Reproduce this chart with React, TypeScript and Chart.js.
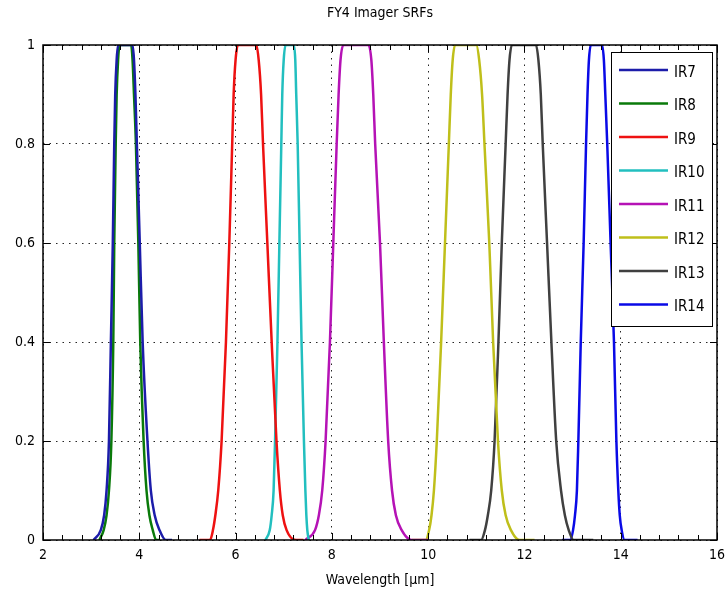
import React, { useEffect, useRef } from "react";
import { Chart, registerables } from "chart.js";

Chart.register(...registerables);

const FONT = "'Liberation Sans Narrow', 'Arial Narrow', 'DejaVu Sans Condensed', sans-serif";

const chartTitle = "FY4 Imager SRFs";
const xAxisTitle = "Wavelength [\u03bcm]";

const seriesNames = ["IR7", "IR8", "IR9", "IR10", "IR11", "IR12", "IR13", "IR14"];
const seriesColors = ["#1c1caa", "#0a7a0a", "#ee1111", "#22bfbf", "#b512b5", "#bfbf1a", "#404040", "#0a0ae6"];

const ir7X = [3.05, 3.20, 3.27, 3.32, 3.37, 3.41, 3.45, 3.48, 3.50, 3.53, 3.56, 3.70, 3.86, 3.89, 3.92, 3.95, 4.01, 4.07, 4.17, 4.24, 4.32, 4.42, 4.55, 4.68];
const ir7Y = [0, 0.02, 0.05, 0.1, 0.2, 0.4, 0.6, 0.8, 0.9, 0.97, 1, 1, 1, 0.97, 0.9, 0.8, 0.6, 0.4, 0.2, 0.1, 0.05, 0.02, 0, 0];

const ir8X = [3.17, 3.26, 3.32, 3.37, 3.42, 3.46, 3.48, 3.51, 3.53, 3.56, 3.59, 3.70, 3.83, 3.86, 3.89, 3.93, 3.98, 4.02, 4.09, 4.15, 4.21, 4.28, 4.35, 4.43];
const ir8Y = [0, 0.02, 0.05, 0.1, 0.2, 0.4, 0.6, 0.8, 0.9, 0.97, 1, 1, 1, 0.97, 0.9, 0.8, 0.6, 0.4, 0.2, 0.1, 0.05, 0.02, 0, 0];

const ir9X = [5.25, 5.47, 5.53, 5.58, 5.64, 5.71, 5.80, 5.87, 5.93, 5.96, 6.00, 6.05, 6.24, 6.43, 6.48, 6.53, 6.57, 6.66, 6.75, 6.85, 6.92, 6.98, 7.06, 7.25, 7.41];
const ir9Y = [0, 0, 0.02, 0.05, 0.1, 0.2, 0.4, 0.6, 0.8, 0.9, 0.97, 1, 1, 1, 0.97, 0.9, 0.8, 0.6, 0.4, 0.2, 0.1, 0.05, 0.02, 0, 0];

const ir10X = [6.62, 6.71, 6.75, 6.79, 6.82, 6.87, 6.91, 6.95, 6.97, 7.00, 7.04, 7.12, 7.21, 7.24, 7.26, 7.29, 7.33, 7.37, 7.42, 7.45, 7.47, 7.49, 7.52];
const ir10Y = [0, 0.02, 0.05, 0.1, 0.2, 0.4, 0.6, 0.8, 0.9, 0.97, 1, 1, 1, 0.97, 0.9, 0.8, 0.6, 0.4, 0.2, 0.1, 0.05, 0.02, 0];

const ir11X = [7.45, 7.65, 7.73, 7.80, 7.87, 7.96, 8.03, 8.10, 8.14, 8.18, 8.24, 8.50, 8.76, 8.82, 8.86, 8.90, 9.00, 9.08, 9.17, 9.25, 9.33, 9.45, 9.66, 10.0];
const ir11Y = [0, 0.02, 0.05, 0.1, 0.2, 0.4, 0.6, 0.8, 0.9, 0.97, 1, 1, 1, 0.97, 0.9, 0.8, 0.6, 0.4, 0.2, 0.1, 0.05, 0.02, 0, 0];

const ir12X = [9.66, 9.95, 10.02, 10.07, 10.12, 10.18, 10.27, 10.35, 10.43, 10.47, 10.51, 10.56, 10.78, 11.00, 11.06, 11.12, 11.17, 11.27, 11.35, 11.45, 11.53, 11.61, 11.72, 11.90, 12.21];
const ir12Y = [0, 0, 0.02, 0.05, 0.1, 0.2, 0.4, 0.6, 0.8, 0.9, 0.97, 1, 1, 1, 0.97, 0.9, 0.8, 0.6, 0.4, 0.2, 0.1, 0.05, 0.02, 0, 0];

const ir13X = [10.86, 11.10, 11.18, 11.24, 11.31, 11.38, 11.46, 11.53, 11.61, 11.65, 11.69, 11.74, 12.00, 12.24, 12.29, 12.34, 12.38, 12.47, 12.56, 12.66, 12.76, 12.84, 12.92, 13.02, 13.43];
const ir13Y = [0, 0, 0.02, 0.05, 0.1, 0.2, 0.4, 0.6, 0.8, 0.9, 0.97, 1, 1, 1, 0.97, 0.9, 0.8, 0.6, 0.4, 0.2, 0.1, 0.05, 0.02, 0, 0];

const ir14X = [12.78, 12.95, 13.01, 13.05, 13.09, 13.12, 13.17, 13.23, 13.28, 13.31, 13.34, 13.38, 13.50, 13.61, 13.65, 13.68, 13.72, 13.79, 13.86, 13.91, 13.95, 13.98, 14.02, 14.08, 14.35];
const ir14Y = [0, 0, 0.02, 0.05, 0.1, 0.2, 0.4, 0.6, 0.8, 0.9, 0.97, 1, 1, 1, 0.97, 0.9, 0.8, 0.6, 0.4, 0.2, 0.1, 0.05, 0.02, 0, 0];

const seriesX = [ir7X, ir8X, ir9X, ir10X, ir11X, ir12X, ir13X, ir14X];
const seriesY = [ir7Y, ir8Y, ir9Y, ir10Y, ir11Y, ir12Y, ir13Y, ir14Y];

const xMin = 2;
const xMax = 16;
const xStep = 2;
const xMinorStep = 0.4;
const yMin = 0;
const yMax = 1;
const yStep = 0.2;

const framePlugin = {
  id: "matlabFrame",
  afterDatasetsDraw(chart: any) {
    const { ctx, chartArea: a, scales } = chart;
    const xs = scales.x;
    const ys = scales.y;
    ctx.save();
    ctx.strokeStyle = "#000";
    ctx.lineWidth = 1;
    ctx.setLineDash([]);
    ctx.beginPath();
    for (let v = xMin; v <= xMax + 1e-9; v += xMinorStep) {
      const px = Math.round(xs.getPixelForValue(v)) + 0.5;
      const major = Math.abs(v / xStep - Math.round(v / xStep)) < 1e-6;
      const len = major ? 7 : 5;
      ctx.moveTo(px, a.bottom);
      ctx.lineTo(px, a.bottom - len);
      ctx.moveTo(px, a.top);
      ctx.lineTo(px, a.top + len);
    }
    for (let v = yMin; v <= yMax + 1e-9; v += yStep) {
      const py = Math.round(ys.getPixelForValue(v)) + 0.5;
      ctx.moveTo(a.left, py);
      ctx.lineTo(a.left + 7, py);
      ctx.moveTo(a.right, py);
      ctx.lineTo(a.right - 7, py);
    }
    ctx.stroke();
    ctx.lineWidth = 1.5;
    ctx.strokeRect(a.left, a.top, a.right - a.left, a.bottom - a.top);
    ctx.restore();
  },
  afterDraw(chart: any) {
    const { ctx, chartArea: a } = chart;
    ctx.save();
    ctx.fillStyle = "#000";
    ctx.font = `14px ${FONT}`;
    ctx.textAlign = "center";
    ctx.textBaseline = "middle";
    ctx.fillText(chartTitle, (a.left + a.right) / 2, 13);

    const bx = a.right - 106;
    const by = a.top + 7;
    const bw = 101;
    const rowH = 33.5;
    const bh = 274;
    ctx.fillStyle = "#fff";
    ctx.fillRect(bx, by, bw, bh);
    ctx.strokeStyle = "#000";
    ctx.lineWidth = 1;
    ctx.strokeRect(bx + 0.5, by + 0.5, bw, bh);
    ctx.font = `15px ${FONT}`;
    ctx.textAlign = "left";
    chart.data.datasets.forEach((ds: any, i: number) => {
      const cy = by + 18 + i * rowH;
      ctx.strokeStyle = ds.borderColor;
      ctx.lineWidth = 2.5;
      ctx.beginPath();
      ctx.moveTo(bx + 8, cy);
      ctx.lineTo(bx + 57, cy);
      ctx.stroke();
      ctx.fillStyle = "#000";
      ctx.fillText(ds.label, bx + 63, cy + 3);
    });
    ctx.restore();
  },
};

export default function App() {
  const canvasRef = useRef<HTMLCanvasElement | null>(null);

  useEffect(() => {
    document.body.style.margin = "0";
    const canvas = canvasRef.current;
    if (!canvas) return;
    const datasets = seriesNames.map((name, i) => ({
      label: name,
      data: seriesX[i].map((x, j) => ({ x, y: seriesY[i][j] })),
      borderColor: seriesColors[i],
      backgroundColor: seriesColors[i],
      borderWidth: 2.5,
      pointRadius: 0,
      cubicInterpolationMode: "monotone" as const,
      fill: false,
    }));
    const chart = new Chart(canvas, {
      type: "line",
      data: { datasets },
      plugins: [framePlugin],
      options: {
        animation: false,
        responsive: false,
        layout: { padding: { top: 45, right: 9, left: 0, bottom: 0 } },
        plugins: {
          legend: { display: false },
          title: { display: false },
          tooltip: { enabled: false },
        },
        scales: {
          x: {
            type: "linear",
            min: xMin,
            max: xMax,
            afterFit: (s: any) => {
              s.height = 60;
              s.paddingLeft = 0;
              s.paddingRight = 0;
            },
            ticks: {
              stepSize: xStep,
              color: "#000",
              padding: 7,
              font: { family: FONT, size: 14 },
            },
            grid: { color: "rgba(0,0,0,0.85)", lineWidth: 1, drawTicks: false },
            border: { display: false, dash: [1.5, 5] },
            title: {
              display: true,
              text: xAxisTitle,
              color: "#000",
              font: { family: FONT, size: 14 },
              padding: { top: 0, bottom: 11 },
            },
          },
          y: {
            type: "linear",
            min: yMin,
            max: yMax,
            afterFit: (s: any) => {
              s.width = 43;
              s.paddingTop = 0;
              s.paddingBottom = 0;
            },
            ticks: {
              stepSize: yStep,
              color: "#000",
              padding: 8,
              font: { family: FONT, size: 14 },
              callback: (v: any) => String(Math.round(Number(v) * 10) / 10),
            },
            grid: { color: "rgba(0,0,0,0.85)", lineWidth: 1, drawTicks: false },
            border: { display: false, dash: [1.5, 5] },
          },
        },
      },
    });
    return () => chart.destroy();
  }, []);

  return (
    <div style={{ width: 726, height: 600 }}>
      <canvas ref={canvasRef} width={726} height={600} style={{ display: "block" }} />
    </div>
  );
}
